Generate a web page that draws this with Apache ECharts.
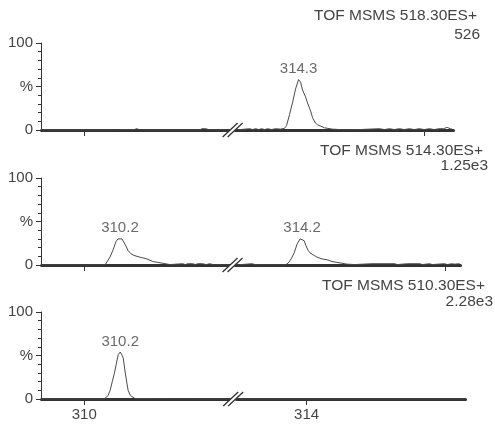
<!DOCTYPE html>
<html>
<head>
<meta charset="utf-8">
<script src="https://cdn.jsdelivr.net/npm/echarts@6/dist/echarts.min.js"></script>
<style>
  html, body { margin: 0; padding: 0; background: #fff; }
  #chart { width: 495px; height: 425px; }
</style>
</head>
<body>
<div id="chart"></div>
<script>
// Channel headers and their full-scale intensities
const channelNames = ['TOF MSMS 518.30ES+', 'TOF MSMS 514.30ES+', 'TOF MSMS 510.30ES+'];
const fullScale = ['526', '1.25e3', '2.28e3'];

// Y tick labels (relative intensity, %)
const yTickText = { 0: '0', 50: '%', 100: '100' };

// X ticks per panel (only the lowest panel is labelled)
const xTicks = [[310, 315], [310, 315], [310, 314]];
const xTickLabelled = [false, false, true];

// Traces: [time, relative intensity %]
const trace518 = [
  [309.761,0],[310.189,0],[310.200,1.5],[310.211,0.5],[310.222,1.5],[310.233,0.5],[310.244,1.5],[310.256,0.5],[310.267,1.5],[310.278,0.5],[310.294,1.5],[310.311,0],
  [310.644,0],[310.656,1.5],[310.667,0.5],[310.678,1.5],[310.689,0.5],[310.700,0],[310.811,0],
  [313.950,0],[314.028,1.5],[314.044,0.5],[314.061,1.5],[314.078,0.5],[314.094,1.5],[314.111,0.5],[314.128,1.5],[314.150,0.5],[314.172,1.5],[314.200,1],
  [314.222,2],[314.233,5],[314.250,18],[314.267,32],[314.283,47],[314.300,58],[314.311,55],[314.322,46],[314.339,38],[314.350,31],[314.367,22],[314.378,14],[314.394,8],[314.406,6],[314.444,2.5],[314.489,1],[314.528,0.5],[314.583,0],
  [314.750,1.5],[314.778,0.5],[314.806,1.5],[314.833,0.5],[314.861,1.5],[314.889,0.5],[314.917,1.5],[314.944,0.5],[314.972,1.5],[315.000,0.5],[315.028,1.5],[315.056,0.5],[315.083,1.5],[315.106,1.5],[315.128,3],[315.144,1.5],[315.156,1]
];
const trace514 = [
  [309.761,0],[310.117,0],[310.128,2],[310.144,9],[310.161,17],[310.178,27],[310.189,30],[310.200,31],[310.211,30],[310.222,28],[310.233,22],[310.244,17],[310.261,13],[310.278,11],[310.311,9],[310.350,7],[310.383,4],[310.411,3],[310.439,2],[310.478,0.5],
  [310.550,1.5],[310.564,0.5],[310.578,1.5],[310.606,1.5],[310.620,0.5],[310.633,1.5],[310.661,1.5],[310.680,0.5],[310.700,1.5],[310.728,0],[310.811,0],
  [313.833,0],[313.922,1.5],[313.944,0],[314.106,0],[314.122,2],[314.139,7],[314.156,14],[314.172,24],[314.189,30],[314.200,31],[314.211,28],[314.222,22],[314.233,17],[314.244,14],[314.267,11],[314.283,9],[314.311,7],[314.339,6],[314.367,4],[314.394,3],[314.422,2],[314.450,1],[314.494,0.5],
  [314.589,1.5],[314.600,0.5],[314.717,1.5],[314.730,0.5],[314.789,1.5],[314.800,0.5],[314.856,1.5],[314.870,0.5],[314.911,1.5],[314.925,0.5],[314.994,1.5],[315.010,0.5],[315.033,1.5],[315.050,1],[315.078,1.5]
];
const trace510 = [
  [309.761,0],[310.111,0],[310.122,1],[310.133,4],[310.144,10],[310.156,20],[310.167,29],[310.178,40],[310.189,51],[310.200,54],[310.211,50],[310.217,47],[310.228,30],[310.239,16],[310.244,10],[310.256,4],[310.267,2],[310.283,0.5],[310.294,0],
  [310.678,0],[310.683,2],[310.689,0],[310.811,0],[313.610,0],[314.880,0]
];

// Labelled peak apexes per panel
const peaks518 = [314.3];
const peaks514 = [310.2, 314.2];
const peaks510 = [310.2];

const traces = [trace518, trace514, trace510];
const peaks = [peaks518, peaks514, peaks510];

// Visible time windows; the middle stretch of each window is collapsed
const xWindows = [
  { min: 309.76, max: 315.16, breakFrom: 310.81, breakTo: 313.95 },
  { min: 309.76, max: 315.08, breakFrom: 310.81, breakTo: 313.83 },
  { min: 309.76, max: 314.88, breakFrom: 310.81, breakTo: 313.61 }
];

const FONT = "'Liberation Sans', Arial, sans-serif";
const TEXT = '#444';
const INK = '#333';
const LINE = '#4a4a4a';

const grids = [
  { left: 41, top: 43, width: 412, height: 87 },
  { left: 41, top: 178, width: 419, height: 87 },
  { left: 41, top: 312, width: 424, height: 87 }
];
const titleSpots = [
  { right: 18, top: 8 }, { right: 15, top: 27 },
  { right: 12, top: 143 }, { right: 7, top: 158 },
  { right: 10, top: 278 }, { right: 2, top: 294 }
];

const chart = echarts.init(document.getElementById('chart'), null, { renderer: 'canvas' });

const title = [];
channelNames.forEach((name, i) => {
  [name, fullScale[i]].forEach((t, k) => {
    const spot = titleSpots[i * 2 + k];
    title.push({
      text: t, right: spot.right, top: spot.top, padding: 0,
      textStyle: { fontFamily: FONT, fontSize: 15.5, fontWeight: 'normal', color: TEXT }
    });
  });
});

const xAxis = xWindows.map((w, i) => ({
  type: 'value', gridIndex: i, min: w.min, max: w.max,
  breaks: [{ start: w.breakFrom, end: w.breakTo, gap: '1.5%' }],
  breakArea: { show: false },
  axisLine: { show: true, onZero: false, lineStyle: { color: INK, width: 3 } },
  axisTick: { show: true, customValues: xTicks[i], length: 6, lineStyle: { color: INK, width: 1 } },
  axisLabel: {
    show: xTickLabelled[i], customValues: xTicks[i], margin: 8,
    fontFamily: FONT, fontSize: 15, color: TEXT,
    formatter: v => String(v)
  },
  splitLine: { show: false }
}));

const yAxis = grids.map((g, i) => ({
  type: 'value', gridIndex: i, min: 0, max: 100, interval: 50,
  axisLine: { show: true, lineStyle: { color: INK, width: 1 } },
  axisTick: { show: true, length: 5, lineStyle: { color: INK } },
  minorTick: { show: true, splitNumber: 5, length: 3, lineStyle: { color: INK } },
  axisLabel: {
    margin: 8, fontFamily: FONT, fontSize: 15, color: TEXT,
    formatter: v => (yTickText[v] !== undefined ? yTickText[v] : '')
  },
  splitLine: { show: false }
}));

const series = [];
traces.forEach((tr, i) => {
  series.push({
    type: 'line', xAxisIndex: i, yAxisIndex: i,
    data: tr, symbol: 'none', showSymbol: false, silent: true,
    lineStyle: { color: LINE, width: 1 }, z: 3
  });
  const apex = peaks[i].map(px => tr.find(p => Math.abs(p[0] - px) < 1e-9));
  series.push({
    type: 'scatter', xAxisIndex: i, yAxisIndex: i,
    data: apex, symbolSize: 0, silent: true,
    label: {
      show: true, position: 'top', distance: 3,
      fontFamily: FONT, fontSize: 15, color: TEXT,
      formatter: p => p.value[0].toFixed(1)
    }
  });
});

chart.setOption({
  animation: false,
  backgroundColor: '#fff',
  title,
  grid: grids.map(g => Object.assign({ outerBoundsMode: 'none' }, g)),
  xAxis, yAxis, series
});

// Axis-break marks ("//") drawn where each panel's time axis is collapsed
const marks = [];
xWindows.forEach((w, i) => {
  const x1 = chart.convertToPixel({ xAxisIndex: i }, w.breakFrom);
  const x2 = chart.convertToPixel({ xAxisIndex: i }, w.breakTo);
  const cx = (x1 + x2) / 2;
  const cy = chart.convertToPixel({ yAxisIndex: i }, 0);
  marks.push({
    type: 'polygon', silent: true, z: 10,
    shape: { points: [[cx - 10, cy + 7], [cx - 5, cy + 7], [cx + 10, cy - 7], [cx + 5, cy - 7]] },
    style: { fill: '#fff' }
  });
  [-7.5, -2.5].forEach(dx => {
    marks.push({
      type: 'line', silent: true, z: 11,
      shape: { x1: cx + dx - 2.5, y1: cy + 7, x2: cx + dx + 12.5, y2: cy - 7 },
      style: { stroke: INK, lineWidth: 1.3 }
    });
  });
});
chart.setOption({ graphic: marks });
</script>
</body>
</html>
